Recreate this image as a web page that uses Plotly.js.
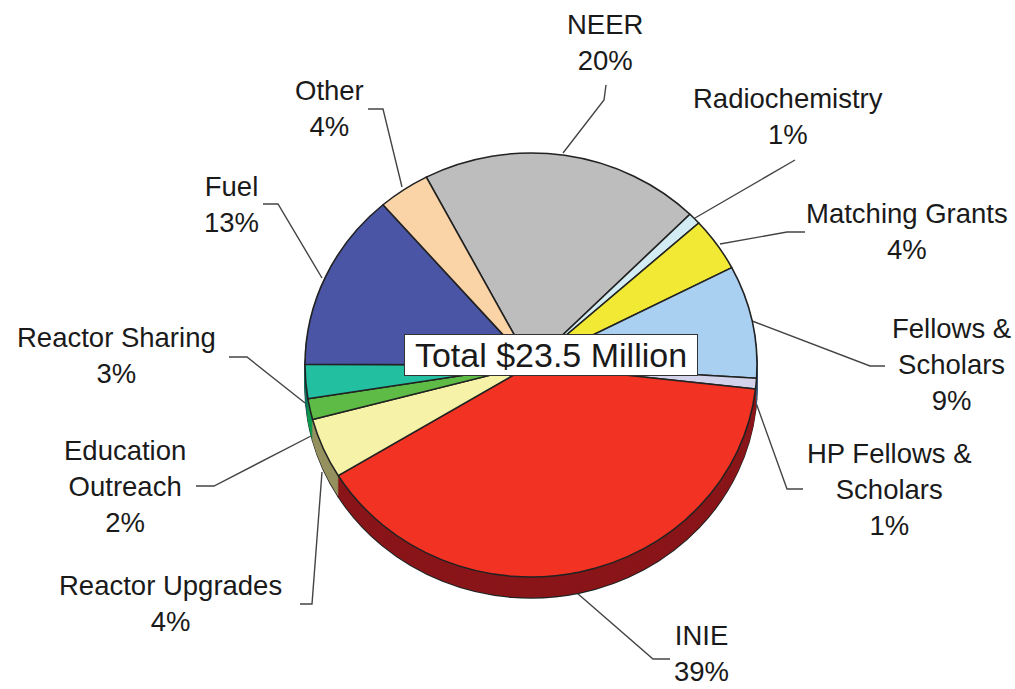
<!DOCTYPE html>
<html>
<head>
<meta charset="utf-8">
<script src="https://cdn.plot.ly/plotly-3.0.1.min.js"></script>
<style>html,body{margin:0;padding:0;background:#fff;overflow:hidden}#chart{width:1015px;height:689px}</style>
</head>
<body>
<div id="chart"></div>
<script>
var categories = ["NEER","Radiochemistry","Matching Grants","Fellows & Scholars","HP Fellows & Scholars","INIE","Reactor Upgrades","Education Outreach","Reactor Sharing","Fuel","Other"];
var shares = [20.1,0.9,4.1,8.6,0.8,39.5,4.6,1.6,2.6,13.6,3.7];
var topColors = ["#BDBDBD","#D3ECF3","#F1E933","#A9D0F0","#D3D3EC","#F23222","#F6F2A8","#5DBB46","#22BFA0","#4A55A5","#FAD3A6"];
var wallColors = ["#6A6A6A","#7A8A90","#8A8520","#3A5A80","#3A5A80","#8A161A","#96925F","#0E9A4E","#127060","#2A3070","#9A7F60"];
var W = 1015, H = 689;
var cx = 531, cy = 365, rx = 226, ry = 212, depth = 21;

var labelTexts = ["NEER<br>20%","Radiochemistry<br>1%","Matching Grants<br>4%","Fellows &<br>Scholars<br>9%","HP Fellows &<br>Scholars<br>1%","INIE<br>39%","Reactor Upgrades<br>4%","Education<br>Outreach<br>2%","Reactor Sharing<br>3%","Fuel<br>13%","Other<br>4%"];
var labelX = [605,788,907,951,889,701,170,125,116,231,329];
var labelY = [42,117,231,364,489,653,603,486,355,204,108];
var leaders = [
 [[563,153],[604,100],[606,85]],
 [[695,218],[795,160]],
 [[720,244],[787,232],[805,232]],
 [[752,321],[870,366],[885,366]],
 [[755,400],[787,489],[803,489]],
 [[577,593],[653,659],[670,659]],
 [[322,472],[312,604],[300,604]],
 [[311,436],[214,486],[196,486]],
 [[305,403],[247,357],[229,357]],
 [[322,278],[278,204],[263,204]],
 [[402,187],[383,109],[368,109]]
];
function px(x){return x/W;}
function py(y){return 1-y/H;}
function pie(colors, lineColor, lineWidth, centerY){
  return {type:"pie",labels:categories,values:shares,sort:false,direction:"clockwise",rotation:-27.6,
    textinfo:"none",hoverinfo:"label+percent",showlegend:false,
    marker:{colors:colors,line:{color:lineColor,width:lineWidth}},
    domain:{x:[px(cx-rx),px(cx+rx)],y:[py(centerY+rx),py(centerY-rx)]}};
}
var traces = [], centers = [];
for (var d = depth; d >= 1; d--) {
  traces.push(pie(wallColors, d === depth ? "#222" : wallColors, d === depth ? 1.6 : 1, cy + d));
  centers.push(cy + d);
}
traces.push(pie(topColors, "#222", 1.6, cy));
centers.push(cy);

var shapes = leaders.map(function(pts){
  return {type:"path",xref:"paper",yref:"paper",layer:"below",line:{color:"#444",width:1.4},
    path:pts.map(function(p,i){return (i?"L":"M")+px(p[0])+" "+py(p[1]);}).join(" ")};
});
var annotations = categories.map(function(c,i){
  return {text:labelTexts[i],xref:"paper",yref:"paper",x:px(labelX[i]),y:py(labelY[i]),xanchor:"center",yanchor:"middle",
    showarrow:false,align:"center",font:{family:"Liberation Sans",size:27.5,color:"#1a1a1a"}};
});
annotations.push({text:"Total $23.5 Million",xref:"paper",yref:"paper",x:px(551),y:py(355),xanchor:"center",yanchor:"middle",
  showarrow:false,bgcolor:"#fff",bordercolor:"#333",borderwidth:1,borderpad:3,width:286,height:34,
  font:{family:"Liberation Sans",size:34,color:"#1a1a1a"}});
Plotly.newPlot("chart",traces,{
  width:W,height:H,margin:{l:0,r:0,t:0,b:0},paper_bgcolor:"#fff",plot_bgcolor:"#fff",
  shapes:shapes,annotations:annotations
},{displayModeBar:false,staticPlot:true}).then(function(gd){
  var s = ry/rx;
  var groups = gd.querySelectorAll(".pielayer g.trace");
  centers.forEach(function(c,i){
    if(groups[i]) groups[i].setAttribute("transform","translate(0,"+c+") scale(1,"+s+") translate(0,"+(-c)+")");
  });
});
</script>
</body>
</html>
